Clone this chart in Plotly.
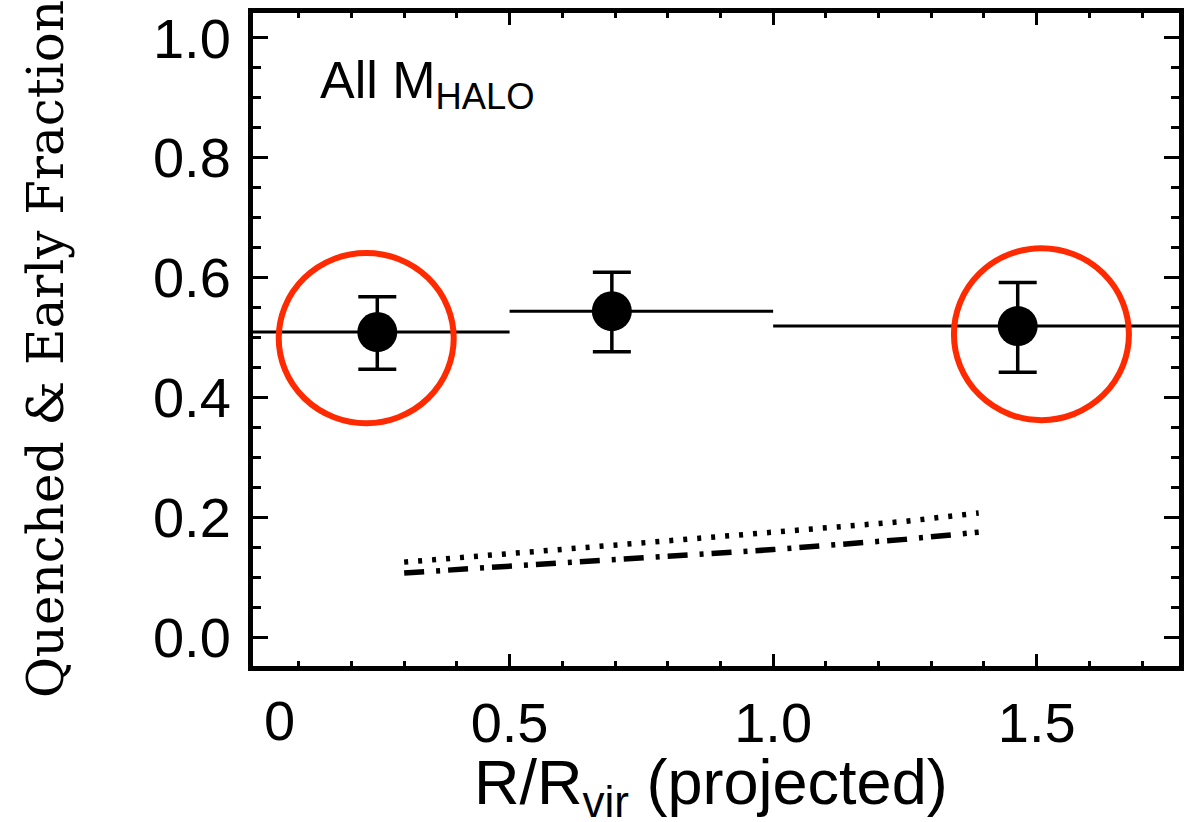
import plotly.graph_objects as go

# ---- data ----
bin_edges = [0.0, 0.5, 1.0, 2.0]
pt_x = [0.249, 0.694, 1.464]
pt_y = [0.509, 0.544, 0.519]
err_hi = [0.568, 0.609, 0.592]
err_lo = [0.447, 0.476, 0.442]

model_x = [0.30, 0.50, 0.75, 1.00, 1.25, 1.39]
model_dotted = [0.125, 0.140, 0.157, 0.175, 0.193, 0.207]
model_dashdot = [0.107, 0.118, 0.132, 0.146, 0.163, 0.175]

circle_boxes = [(0.062, 0.394, 0.357, 0.641), (1.343, 1.675, 0.362, 0.649)]

ytick_vals = [0.0, 0.2, 0.4, 0.6, 0.8, 1.0]
ytick_text = ["0.0", "0.2", "0.4", "0.6", "0.8", "1.0"]
xtick_vals = [0.5, 1.0, 1.5]
xtick_text = ["0.5", "1.0", "1.5"]

# ---- layout geometry ----
W, H = 1184, 822
L, R, T, B = 253, 0, 13, 156
PW, PH = W - L - R, H - T - B
XR = [0.0132, 1.770]
YR = [-0.0484, 1.0417]


def px2paper_x(px):
    return (px - L) / PW


def px2paper_y(py):
    return (H - B - py) / PH


FONT = "Liberation Sans, Arial, Helvetica, sans-serif"

fig = go.Figure()

# bin lines
for i, v in enumerate(pt_y):
    fig.add_trace(go.Scatter(x=[bin_edges[i], bin_edges[i + 1]], y=[v, v], mode="lines",
                             line=dict(color="black", width=3), showlegend=False, hoverinfo="skip"))

# model lines
fig.add_trace(go.Scatter(x=model_x, y=model_dotted, mode="lines",
                         line=dict(color="black", width=5.5, dash="4px,10px"),
                         showlegend=False, hoverinfo="skip"))
fig.add_trace(go.Scatter(x=model_x, y=model_dashdot, mode="lines",
                         line=dict(color="black", width=5.5, dash="20px,12px,4px,8px"),
                         showlegend=False, hoverinfo="skip"))

# points with errors
fig.add_trace(go.Scatter(
    x=pt_x, y=pt_y, mode="markers",
    marker=dict(color="black", size=40, symbol="circle"),
    error_y=dict(type="data", symmetric=False,
                 array=[h - y for h, y in zip(err_hi, pt_y)],
                 arrayminus=[y - l for l, y in zip(err_lo, pt_y)],
                 color="black", thickness=3.5, width=19),
    showlegend=False))

# red circles
shapes = []
for (x0, x1, y0, y1) in circle_boxes:
    shapes.append(dict(type="circle", xref="x", yref="y", x0=x0, x1=x1, y0=y0, y1=y1,
                       line=dict(color="#ff2a00", width=6), layer="above"))

annotations = [
    dict(text="All M<sub>HALO</sub>", xref="paper", yref="paper",
         x=px2paper_x(318), y=px2paper_y(84), xanchor="left", yanchor="middle",
         showarrow=False, font=dict(family=FONT, size=52, color="black")),
    dict(text="Quenched &amp; Early Fraction", xref="paper", yref="paper",
         x=px2paper_x(45), y=px2paper_y(349), xanchor="center", yanchor="middle",
         textangle=-90, showarrow=False,
         font=dict(family="DejaVu Serif, serif", size=50, color="black")),
    dict(text="R/R<sub>vir</sub> (projected)", xref="paper", yref="paper",
         x=px2paper_x(713), y=px2paper_y(786), xanchor="center", yanchor="middle",
         showarrow=False, font=dict(family=FONT, size=63, color="black")),
    dict(text="0", xref="paper", yref="paper",
         x=px2paper_x(280), y=px2paper_y(720), xanchor="center", yanchor="middle",
         showarrow=False, font=dict(family=FONT, size=56, color="black")),
]

fig.update_layout(
    width=W, height=H,
    margin=dict(l=L, r=R, t=T, b=B, pad=0),
    paper_bgcolor="white", plot_bgcolor="white",
    shapes=shapes, annotations=annotations,
    showlegend=False,
)

fig.update_xaxes(
    range=XR, showgrid=False, zeroline=False,
    showline=True, linecolor="black", linewidth=5, mirror="ticks",
    ticks="inside", ticklen=12, tickwidth=3, tickcolor="black",
    tickvals=xtick_vals, ticktext=xtick_text, ticklabelstandoff=4,
    tickfont=dict(family=FONT, size=56, color="black"),
    minor=dict(dtick=0.1, tick0=0, ticks="inside", ticklen=5, tickwidth=3, tickcolor="black", showgrid=False),
)
fig.update_yaxes(
    range=YR, showgrid=False, zeroline=False,
    showline=True, linecolor="black", linewidth=5, mirror="ticks",
    ticks="inside", ticklen=15, tickwidth=3, tickcolor="black",
    tickvals=ytick_vals, ticktext=ytick_text, ticklabelstandoff=6,
    tickfont=dict(family=FONT, size=56, color="black"),
    minor=dict(dtick=0.05, tick0=0, ticks="inside", ticklen=8, tickwidth=3, tickcolor="black", showgrid=False),
)

fig.write_html("out.html")
